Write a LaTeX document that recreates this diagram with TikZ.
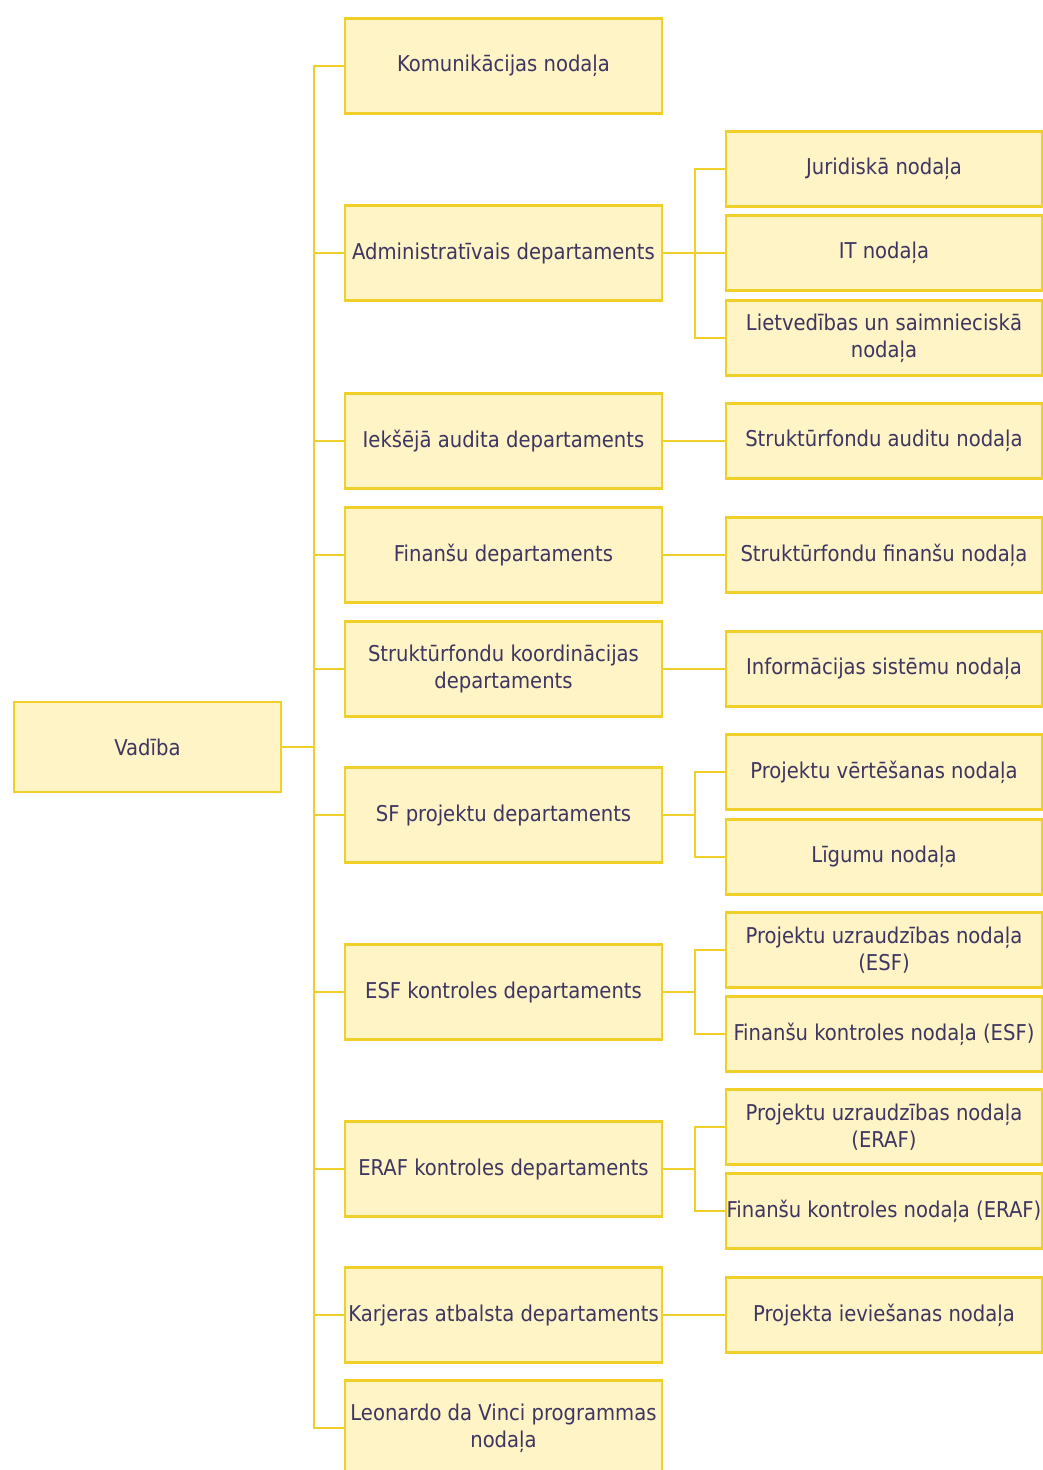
\documentclass[tikz,border=0pt]{standalone}
\usepackage{fontspec}
\setmainfont{DejaVu Sans Condensed}
\usepackage{tikz}
\usetikzlibrary{positioning}

\definecolor{boxfill}{RGB}{255,244,198}
\definecolor{boxline}{RGB}{240,208,40}
\definecolor{boxtext}{RGB}{62,54,96}

\begin{document}
\begin{tikzpicture}[x=0.02cm,y=-0.02cm,font=\fontsize{12.4}{15.3}\selectfont,
    unit/.style={draw=boxline,fill=boxfill,line width=1.3pt,text=boxtext,align=center,inner sep=0pt},
    head/.style={unit,minimum width=5.34cm,minimum height=1.8cm},
    dept/.style={unit,minimum width=6.34cm,minimum height=1.9cm},
    sect/.style={unit,minimum width=6.32cm,minimum height=1.5cm},
    link/.style={draw=boxline,line width=1.3pt},
    elbow/.style={to path={-- ++(32,0) |- (\tikztotarget)}}]
  \useasboundingbox (0,0) rectangle (1043,1470);

  \node[head] (vad) at (147.5,747) {Vadība};

  \node[dept] (kom) at (503.5,66)   {Komunikācijas nodaļa};
  \node[dept] (adm) at (503.5,253)  {Administratīvais departaments};
  \node[dept] (iad) at (503.5,441)  {Iekšējā audita departaments};
  \node[dept] (fin) at (503.5,555)  {Finanšu departaments};
  \node[dept] (sfk) at (503.5,669)  {Struktūrfondu koordinācijas\\departaments};
  \node[dept] (sfp) at (503.5,815)  {SF projektu departaments};
  \node[dept] (esf) at (503.5,992)  {ESF kontroles departaments};
  \node[dept] (erf) at (503.5,1169) {ERAF kontroles departaments};
  \node[dept] (kar) at (503.5,1315) {Karjeras atbalsta departaments};
  \node[dept] (leo) at (503.5,1428) {Leonardo da Vinci programmas\\nodaļa};

  \node[sect] (jur) at (884,169)  {Juridiskā nodaļa};
  \node[sect] (itn) at (884,253)  {IT nodaļa};
  \node[sect] (lsn) at (884,338)  {Lietvedības un saimnieciskā\\nodaļa};
  \node[sect] (sau) at (884,441)  {Struktūrfondu auditu nodaļa};
  \node[sect] (sfn) at (884,555)  {Struktūrfondu finanšu nodaļa};
  \node[sect] (isn) at (884,669)  {Informācijas sistēmu nodaļa};
  \node[sect] (pvn) at (884,772)  {Projektu vērtēšanas nodaļa};
  \node[sect] (lig) at (884,857)  {Līgumu nodaļa};
  \node[sect] (pue) at (884,950)  {Projektu uzraudzības nodaļa\\(ESF)};
  \node[sect] (fke) at (884,1034) {Finanšu kontroles nodaļa (ESF)};
  \node[sect] (pur) at (884,1127) {Projektu uzraudzības nodaļa\\(ERAF)};
  \node[sect] (fkr) at (884,1211) {Finanšu kontroles nodaļa (ERAF)};
  \node[sect] (pin) at (884,1315) {Projekta ieviešanas nodaļa};

  \path[link] (vad.east) edge[elbow] (kom.west)
                         edge[elbow] (adm.west)
                         edge[elbow] (iad.west)
                         edge[elbow] (fin.west)
                         edge[elbow] (sfk.west)
                         edge[elbow] (sfp.west)
                         edge[elbow] (esf.west)
                         edge[elbow] (erf.west)
                         edge[elbow] (kar.west)
                         edge[elbow] (leo.west)
              (adm.east) edge[elbow] (jur.west)
                         edge[elbow] (itn.west)
                         edge[elbow] (lsn.west)
              (iad.east) edge        (sau.west)
              (fin.east) edge        (sfn.west)
              (sfk.east) edge        (isn.west)
              (sfp.east) edge[elbow] (pvn.west)
                         edge[elbow] (lig.west)
              (esf.east) edge[elbow] (pue.west)
                         edge[elbow] (fke.west)
              (erf.east) edge[elbow] (pur.west)
                         edge[elbow] (fkr.west)
              (kar.east) edge        (pin.west);
\end{tikzpicture}
\end{document}
